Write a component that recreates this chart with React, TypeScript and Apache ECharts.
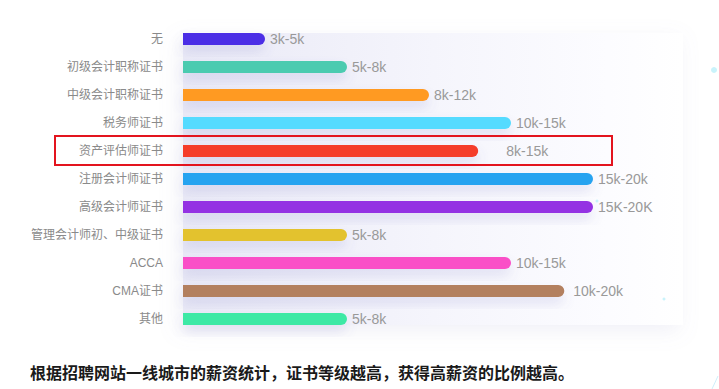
import React, { useEffect, useRef } from "react";
import * as echarts from "echarts";

const categories = [
  "无",
  "初级会计职称证书",
  "中级会计职称证书",
  "税务师证书",
  "资产评估师证书",
  "注册会计师证书",
  "高级会计师证书",
  "管理会计师初、中级证书",
  "ACCA",
  "CMA证书",
  "其他",
];
const barValues = [20, 40, 60, 80, 72, 100, 100, 40, 80, 93, 40];
const salaryLabels = [
  "3k-5k",
  "5k-8k",
  "8k-12k",
  "10k-15k",
  "8k-15k",
  "15k-20k",
  "15K-20K",
  "5k-8k",
  "10k-15k",
  "10k-20k",
  "5k-8k",
];
const barColors = [
  "#4c2de6",
  "#4ccbb0",
  "#ff9a24",
  "#55dbff",
  "#f53c2b",
  "#27a3f0",
  "#9430e3",
  "#e3c22d",
  "#fa50c7",
  "#b3805e",
  "#3ee9a5",
];
const labelDistances = [5, 5, 5, 5, 28, 5, 5, 5, 5, 9, 5];
const caption =
  "根据招聘网站一线城市的薪资统计，证书等级越高，获得高薪资的比例越高。";

const FONT = 'Arial, "Liberation Sans", "Noto Sans CJK SC", sans-serif';

export default function App() {
  const ref = useRef<HTMLDivElement>(null);
  useEffect(() => {
    if (!ref.current) return;
    const chart = echarts.init(ref.current, undefined, { renderer: "svg" });
    chart.setOption({
      animation: false,
      backgroundColor: "#ffffff",
      grid: { left: 183, right: 126, top: 25, bottom: 56, containLabel: false },
      xAxis: {
        type: "value",
        min: 0,
        max: 100,
        show: false,
      },
      yAxis: {
        type: "category",
        inverse: true,
        data: categories,
        axisLine: { show: false },
        axisTick: { show: false },
        splitLine: { show: false },
        axisLabel: {
          color: "#8a8a8a",
          fontSize: 12,
          margin: 20,
          fontFamily: FONT,
        },
      },
      graphic: [
        {
          type: "rect",
          z: -10,
          silent: true,
          shape: { x: 183, y: 33, width: 500, height: 292 },
          style: {
            fill: new echarts.graphic.LinearGradient(0, 0, 1, 0, [
              { offset: 0, color: "#e9e9f6" },
              { offset: 0.5, color: "#f5f5fc" },
              { offset: 0.85, color: "#fcfcff" },
              { offset: 1, color: "#ffffff" },
            ]),
            shadowBlur: 20,
            shadowOffsetX: -4,
            shadowOffsetY: 6,
            shadowColor: "rgba(150,150,200,0.14)",
          },
        },
        {
          type: "rect",
          z: 10,
          silent: true,
          shape: { x: 55, y: 136, width: 557, height: 29 },
          style: { fill: "none", stroke: "#e3141e", lineWidth: 2 },
        },
        {
          type: "circle",
          silent: true,
          shape: { cx: 714, cy: 70, r: 3 },
          style: { fill: "#c9f3fb" },
        },
        {
          type: "circle",
          silent: true,
          shape: { cx: 597, cy: 201, r: 1.5 },
          style: { fill: "#c9f3fb" },
        },
        {
          type: "circle",
          silent: true,
          shape: { cx: 664, cy: 299, r: 1.5 },
          style: { fill: "#c9f3fb" },
        },
        {
          type: "line",
          silent: true,
          shape: { x1: 718, y1: 376, x2: 712, y2: 389 },
          style: { stroke: "#cfeefa", lineWidth: 1 },
        },
        {
          type: "text",
          silent: true,
          x: 30,
          y: 372,
          style: {
            text: caption,
            fontSize: 16,
            fontFamily: '"Noto Sans CJK SC", sans-serif',
            fontWeight: "bold",
            fill: "#1a1a1a",
            verticalAlign: "middle",
            align: "left",
          },
        },
      ],
      series: [
        {
          type: "bar",
          barWidth: 12,
          data: barValues.map((v, i) => ({
            value: v,
            itemStyle: {
              color: barColors[i],
              borderRadius: [0, 6, 6, 0],
              shadowBlur: 12,
              shadowOffsetY: 7,
              shadowColor: "rgba(110,110,190,0.16)",
            },
            label: {
              show: true,
              position: "right",
              distance: labelDistances[i],
              formatter: salaryLabels[i],
              color: "#999999",
              fontSize: 14,
              fontFamily: FONT,
            },
          })),
        },
      ],
    });
    return () => chart.dispose();
  }, []);
  return (
    <div
      ref={ref}
      style={{ position: "fixed", left: 0, top: 0, width: 719, height: 389 }}
    />
  );
}
